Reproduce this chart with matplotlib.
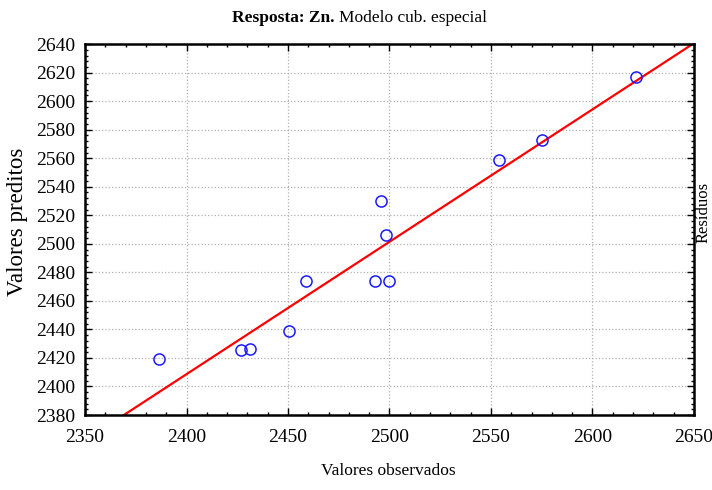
import numpy as np
import matplotlib.pyplot as plt
from matplotlib.ticker import MultipleLocator

# observed vs predicted values (Zn)
observados = [2386.6, 2427.0, 2431.4, 2450.5, 2459.0, 2493.1,
              2495.8, 2498.4, 2500.0, 2554.0, 2575.0, 2621.5]
preditos = [2419.5, 2425.4, 2426.5, 2438.8, 2474.1, 2474.0,
            2529.9, 2506.3, 2474.0, 2558.8, 2573.0, 2617.0]

x_ticks = [2350, 2400, 2450, 2500, 2550, 2600, 2650]
y_ticks = list(range(2380, 2641, 20))

plt.rcParams['font.family'] = ['Liberation Serif', 'DejaVu Serif']

fig = plt.figure(figsize=(7.12, 4.9), dpi=100)
ax = fig.add_axes([0.1194, 0.153, 0.8553, 0.757])

# regression line of predicted on observed
b, a = np.polyfit(observados, preditos, 1)
xl = np.array([x_ticks[0], x_ticks[-1]])
ax.plot(xl, a + b * xl, color='#ff0000', lw=1.6, zorder=2)

ax.plot(observados, preditos, 'o', ms=8, mfc='none', mec='#1a1aff',
        mew=1.1, zorder=3)

ax.set_xlim(2350, 2650)
ax.set_ylim(2380, 2640)
ax.set_xticks(x_ticks)
ax.set_yticks(y_ticks)
ax.xaxis.set_minor_locator(MultipleLocator(10))
ax.yaxis.set_minor_locator(MultipleLocator(4))
ax.tick_params(which='both', direction='in', top=True, right=True,
               labelsize=14, width=1)
ax.tick_params(which='major', length=5)
ax.tick_params(which='minor', length=2)
ax.tick_params(axis='x', pad=10)
ax.tick_params(axis='y', pad=7)
ax.grid(True, which='major', ls=':', color='#b0b0b0', lw=0.9)
for s in ax.spines.values():
    s.set_linewidth(1.8)

ax.set_xlabel('Valores observados', fontsize=12.5)
ax.xaxis.set_label_coords(0.4975, -0.128)
ax.set_ylabel('Valores preditos', fontsize=16.5)
ax.yaxis.set_label_coords(-0.093, 0.52)

fig.text(335 / 712, 1 - 18 / 490, 'Resposta: Zn.', fontsize=12.5,
         fontweight='bold', ha='right', va='center')
fig.text(339 / 712, 1 - 18 / 490, 'Modelo cub. especial', fontsize=12.5,
         ha='left', va='center')
fig.text(704 / 712, 1 - 212 / 490, 'Resíduos', fontsize=12,
         rotation=90, ha='center', va='center')

plt.savefig('out.png', dpi=100)
